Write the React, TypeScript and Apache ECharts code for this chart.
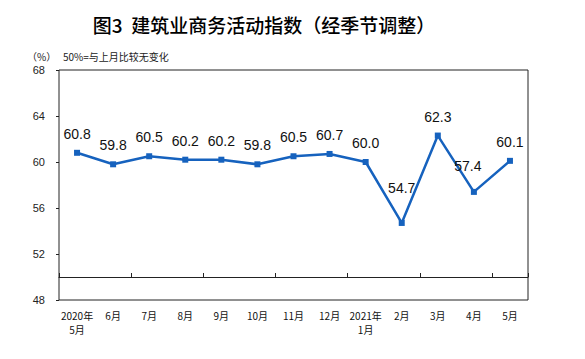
import React, { useEffect, useRef } from "react";
import * as echarts from "echarts";

const categories = [
  "2020年\n5月", "6月", "7月", "8月", "9月", "10月", "11月", "12月",
  "2021年\n1月", "2月", "3月", "4月", "5月",
];
const values = [60.8, 59.8, 60.5, 60.2, 60.2, 59.8, 60.5, 60.7, 60.0, 54.7, 62.3, 57.4, 60.1];
const yMin = 48;
const yMax = 68;
const yInterval = 4;
const refLine = 50;

export default function App() {
  const ref = useRef<HTMLDivElement>(null);
  useEffect(() => {
    document.body.style.margin = "0";
    if (!ref.current) return;
    const chart = echarts.init(ref.current, null, { renderer: "svg" });
    const blue = "#1662BE";
    const data = values.map((v, i) => {
      const item: any = { value: v };
      if (i === 9) item.label = { offset: [0, -16] };
      if (i === 11) item.label = { offset: [-6, -7] };
      return item;
    });
    chart.setOption({
      animation: false,
      backgroundColor: "#fff",
      title: {
        text: "图3  建筑业商务活动指数（经季节调整）",
        left: 259,
        textAlign: "center",
        top: 10,
        textStyle: {
          fontFamily: "Noto Sans CJK SC",
          fontSize: 19,
          fontWeight: 500,
          color: "#000",
        },
      },
      graphic: [
        {
          type: "text",
          left: 27,
          top: 51,
          style: {
            text: "（%）",
            fontFamily: "Noto Sans CJK SC",
            fontSize: 10,
            fill: "#222",
          },
        },
        {
          type: "text",
          left: 63,
          top: 51,
          style: {
            text: "50%=与上月比较无变化",
            fontFamily: "Noto Sans CJK SC",
            fontSize: 10,
            fill: "#222",
          },
        },
      ],
      grid: {
        left: 59,
        right: 57,
        top: 70,
        bottom: 59,
        show: true,
        borderColor: "#222",
        borderWidth: 1,
        backgroundColor: "transparent",
      },
      xAxis: [
        {
          type: "category",
          data: categories,
          boundaryGap: true,
          position: "bottom",
          axisLine: { show: false },
          axisTick: { show: false },
          axisLabel: {
            margin: 8,
            fontFamily: "Noto Sans CJK SC",
            fontSize: 10,
            color: "#111",
            lineHeight: 14,
            interval: 0,
          },
        },
        {
          type: "category",
          data: categories,
          boundaryGap: true,
          position: "bottom",
          offset: -23,
          axisLine: { show: true, lineStyle: { color: "#222", width: 1 } },
          axisTick: { show: true, inside: true, length: 4, lineStyle: { color: "#222" } },
          axisLabel: { show: false },
        },
      ],
      yAxis: {
        type: "value",
        min: yMin,
        max: yMax,
        interval: yInterval,
        axisLine: { show: false },
        axisTick: { show: true, length: 3, lineStyle: { color: "#222" } },
        splitLine: { show: false },
        axisLabel: {
          margin: 14,
          fontFamily: "Liberation Sans",
          fontSize: 11,
          color: "#222",
        },
      },
      series: [
        {
          type: "line",
          xAxisIndex: 0,
          data,
          symbol: "rect",
          symbolSize: 6,
          itemStyle: { color: blue },
          lineStyle: { color: blue, width: 2.5 },
          label: {
            show: true,
            position: "top",
            distance: 9,
            formatter: (p: any) => Number(p.value).toFixed(1),
            fontFamily: "Liberation Sans",
            fontSize: 14,
            color: "#111",
          },
          markLine: {
            silent: true,
            symbol: "none",
            label: { show: false },
            lineStyle: { color: "#222", width: 1, type: "solid" },
            data: [{ yAxis: refLine }],
          },
        },
      ],
    });
    return () => chart.dispose();
  }, []);
  return <div ref={ref} style={{ width: 585, height: 359 }} />;
}
